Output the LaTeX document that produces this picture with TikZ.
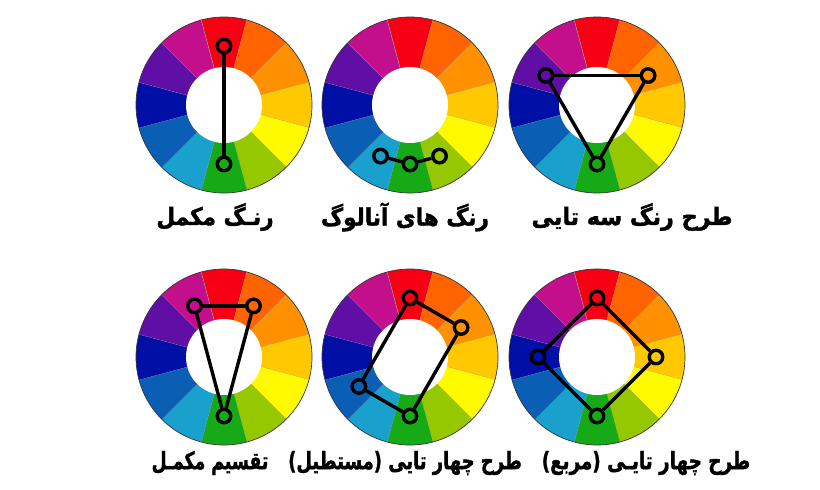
\documentclass[tikz,border=0pt]{standalone}
\usepackage{fontspec}
\newfontfamily\farsi[Script=Arabic, BoldFeatures={FakeBold=1.6}]{DejaVu Sans}
\TeXXeTstate=1

\definecolor{cwRed}{RGB}{248,0,20}
\definecolor{cwRedOrange}{RGB}{255,100,0}
\definecolor{cwOrange}{RGB}{255,145,0}
\definecolor{cwAmber}{RGB}{255,200,0}
\definecolor{cwYellow}{RGB}{255,250,0}
\definecolor{cwLime}{RGB}{150,200,0}
\definecolor{cwGreen}{RGB}{22,170,22}
\definecolor{cwCyan}{RGB}{25,160,205}
\definecolor{cwBlue}{RGB}{10,95,180}
\definecolor{cwNavy}{RGB}{0,15,165}
\definecolor{cwViolet}{RGB}{95,15,165}
\definecolor{cwMagenta}{RGB}{195,15,140}

\newcommand{\wheel}{%
  \foreach \a/\c in {90/cwRed,60/cwRedOrange,30/cwOrange,0/cwAmber,-30/cwYellow,-60/cwLime,-90/cwGreen,-120/cwCyan,-150/cwBlue,180/cwNavy,150/cwViolet,120/cwMagenta}{
    \fill[\c] (0,0) -- (\a-15:88pt) arc[start angle=\a-15, end angle=\a+15, radius=88pt] -- cycle;
    \draw[black!40, line width=0.5pt] (\a-15:38pt) -- (\a-15:88pt);
  }
  \draw[black!80, line width=0.7pt] (0,0) circle[radius=88pt];
  \fill[white] (0,0) circle[radius=38pt];
}

\tikzset{
  ring/.style={circle, draw, line width=3.4pt, minimum size=13.5pt, inner sep=0pt},
  link/.style={line width=3.4pt},
  tag/.style={font=\farsi\bfseries\fontsize{24}{28}\selectfont, xscale=0.9, transform shape}
}

\begin{document}
\begin{tikzpicture}[x=1pt, y=1pt]
        \useasboundingbox (0,0) rectangle (820,-490);

        \begin{scope}[shift={(224,-105)}]
            \wheel
            \node[ring] (comp1) at (90:59pt) {};
            \node[ring] (comp2) at (-90:59pt) {};
            \draw[link] (comp1) -- (comp2);
        \end{scope}

        \begin{scope}[shift={(410,-105)}]
            \wheel
            \node[ring] (ana1) at (-120:59pt) {};
            \node[ring] (ana2) at (-90:59pt) {};
            \node[ring] (ana3) at (-60:59pt) {};
            \draw[link] (ana1) -- (ana2);
            \draw[link] (ana2) -- (ana3);
        \end{scope}

        \begin{scope}[shift={(597,-105)}]
            \wheel
            \node[ring] (tri1) at (150:59pt) {};
            \node[ring] (tri2) at (30:59pt) {};
            \node[ring] (tri3) at (-90:59pt) {};
            \draw[link] (tri1) -- (tri2);
            \draw[link] (tri2) -- (tri3);
            \draw[link] (tri3) -- (tri1);
        \end{scope}

        \begin{scope}[shift={(224,-357)}]
            \wheel
            \node[ring] (split1) at (120:59pt) {};
            \node[ring] (split2) at (60:59pt) {};
            \node[ring] (split3) at (-90:59pt) {};
            \draw[link] (split1) -- (split2);
            \draw[link] (split2) -- (split3);
            \draw[link] (split3) -- (split1);
        \end{scope}

        \begin{scope}[shift={(410,-357)}]
            \wheel
            \node[ring] (rect1) at (90:59pt) {};
            \node[ring] (rect2) at (30:59pt) {};
            \node[ring] (rect3) at (-90:59pt) {};
            \node[ring] (rect4) at (-150:59pt) {};
            \draw[link] (rect1) -- (rect2);
            \draw[link] (rect2) -- (rect3);
            \draw[link] (rect3) -- (rect4);
            \draw[link] (rect4) -- (rect1);
        \end{scope}

        \begin{scope}[shift={(597,-357)}]
            \wheel
            \node[ring] (sq1) at (90:59pt) {};
            \node[ring] (sq2) at (0:59pt) {};
            \node[ring] (sq3) at (-90:59pt) {};
            \node[ring] (sq4) at (180:59pt) {};
            \draw[link] (sq1) -- (sq2);
            \draw[link] (sq2) -- (sq3);
            \draw[link] (sq3) -- (sq4);
            \draw[link] (sq4) -- (sq1);
        \end{scope}

        \node[tag] (compl) at (215,-217) {\beginR رنـگ مکمل\endR};
        \node[tag] (anal) at (405,-217) {\beginR رنگ های آنالوگ\endR};
        \node[tag, xscale=1.03] (triad) at (632,-217) {\beginR طرح رنگ سه تایی\endR};
        \node[tag, xscale=0.8] (splitl) at (210,-463) {\beginR تقسیم مکمـل\endR};
        \node[tag, xscale=0.83] (rectl) at (405,-463) {\beginR طرح چهار تایی (مستطیل)\endR};
        \node[tag, xscale=0.85] (sql) at (646,-463) {\beginR طرح چهار تایـی (مربع)\endR};
    \end{tikzpicture}
\end{document}
